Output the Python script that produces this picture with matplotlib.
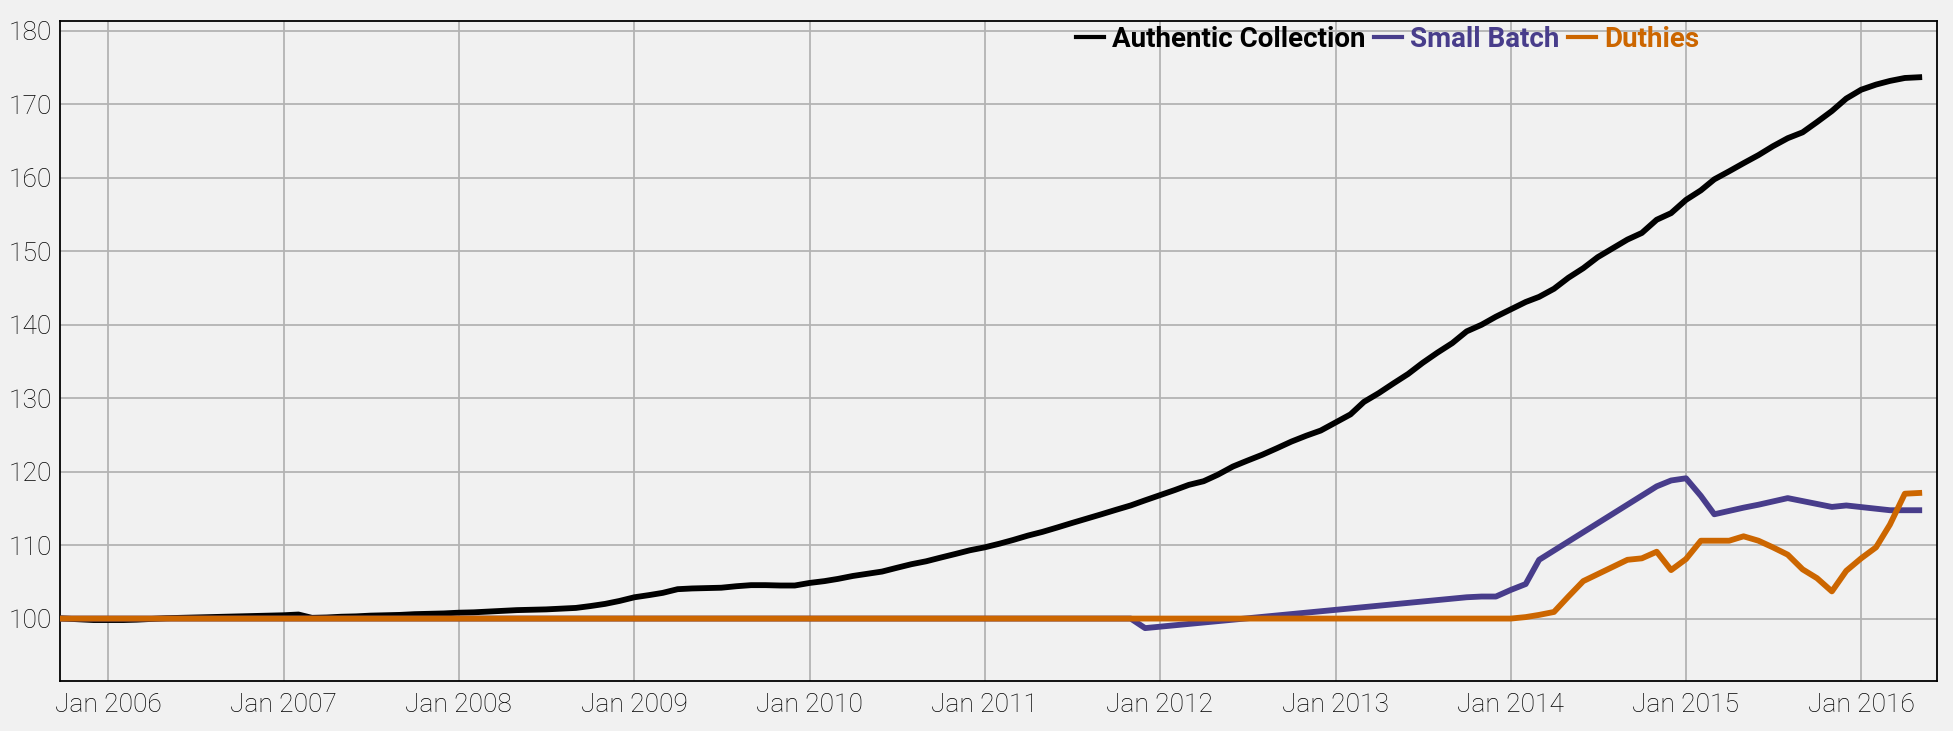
import numpy as np
import matplotlib
matplotlib.use("Agg")
import matplotlib.pyplot as plt
import matplotlib.dates as mdates
from matplotlib.lines import Line2D

# ---------------- data ----------------
black_start = "2005-09-01"
black_end = "2016-05-01"
authentic = [
    100.1, 100.0, 99.9, 99.8,                                                        # 2005 Sep-Dec
    99.8, 99.8, 99.85, 99.95, 100.05, 100.1, 100.15, 100.2, 100.25, 100.3, 100.35, 100.4,  # 2006
    100.45, 100.55, 100.1, 100.15, 100.25, 100.3, 100.4, 100.45, 100.5, 100.6, 100.65, 100.7,  # 2007
    100.8, 100.85, 100.95, 101.05, 101.15, 101.2, 101.25, 101.35, 101.45, 101.7, 102.0, 102.4,  # 2008
    102.9, 103.2, 103.5, 104.0, 104.1, 104.15, 104.2, 104.4, 104.55, 104.55, 104.5, 104.5,    # 2009
    104.85, 105.1, 105.4, 105.8, 106.1, 106.4, 106.9, 107.4, 107.8, 108.3, 108.8, 109.3,      # 2010
    109.7, 110.2, 110.7, 111.3, 111.8, 112.4, 113.0, 113.6, 114.2, 114.8, 115.4, 116.1,       # 2011
    116.8, 117.5, 118.2, 118.7, 119.6, 120.7, 121.5, 122.3, 123.2, 124.1, 124.9, 125.6,       # 2012
    126.7, 127.8, 129.5, 130.7, 132.0, 133.3, 134.8, 136.2, 137.5, 139.1, 140.0, 141.1,       # 2013
    142.1, 143.1, 143.8, 144.9, 146.4, 147.7, 149.2, 150.4, 151.6, 152.5, 154.3, 155.2,       # 2014
    157.0, 158.3, 159.8, 160.9, 162.0, 163.1, 164.3, 165.4, 166.2, 167.6, 169.1, 170.8,       # 2015
    172.0, 172.7, 173.2, 173.6, 173.7,                                                    # 2016 Jan-May
]

small_batch_dates = [
    "2005-09-01", "2011-11-01", "2011-12-01", "2013-10-01", "2013-11-01", "2013-12-01",
    "2014-01-01", "2014-02-01", "2014-03-01", "2014-11-01", "2014-12-01", "2015-01-01",
    "2015-02-01", "2015-03-01", "2015-05-01", "2015-06-01", "2015-08-01", "2015-11-01",
    "2015-12-01", "2016-03-01", "2016-05-01",
]
small_batch = [
    100.0, 100.0, 98.7, 102.9, 103.0, 103.0,
    103.9, 104.7, 108.0, 118.0, 118.8, 119.1,
    116.7, 114.2, 115.1, 115.5, 116.4, 115.2,
    115.4, 114.75, 114.75,
]

duthies_dates = [
    "2005-09-01", "2014-01-01", "2014-02-01", "2014-03-01", "2014-04-01", "2014-05-01",
    "2014-06-01", "2014-09-01", "2014-10-01", "2014-11-01", "2014-12-01", "2015-01-01",
    "2015-02-01", "2015-04-01", "2015-05-01", "2015-06-01", "2015-07-01", "2015-08-01",
    "2015-09-01", "2015-10-01", "2015-11-01", "2015-12-01", "2016-01-01", "2016-02-01",
    "2016-03-01", "2016-04-01", "2016-05-01",
]
duthies = [
    100.0, 100.0, 100.2, 100.5, 100.9, 103.0,
    105.1, 108.0, 108.2, 109.1, 106.6, 108.1,
    110.6, 110.6, 111.2, 110.6, 109.7, 108.7,
    106.7, 105.5, 103.7, 106.5, 108.2, 109.7,
    112.8, 117.0, 117.1,
]

series_names = ["Authentic Collection", "Small Batch", "Duthies"]
series_colors = ["#000000", "#483d8b", "#cc6600"]
y_ticks = [100, 110, 120, 130, 140, 150, 160, 170, 180]

# ---------------- plot ----------------
bg = "#f1f1f1"
fig = plt.figure(figsize=(19.53, 7.31), dpi=100, facecolor=bg)
ax = fig.add_axes([0.0307, 0.0684, 0.9611, 0.9033], facecolor=bg)

black_dates = np.arange(np.datetime64(black_start, "M"), np.datetime64(black_end, "M") + 1).astype("datetime64[D]")
sb_dates = np.array(small_batch_dates, dtype="datetime64[D]")
du_dates = np.array(duthies_dates, dtype="datetime64[D]")

lw = 4.2
ax.plot(black_dates, authentic, color=series_colors[0], lw=lw, solid_joinstyle="round", zorder=3)
ax.plot(sb_dates, small_batch, color=series_colors[1], lw=lw, solid_joinstyle="round", zorder=4)
ax.plot(du_dates, duthies, color=series_colors[2], lw=lw, solid_joinstyle="round", zorder=5)

ax.set_xlim(np.datetime64("2005-09-22"), np.datetime64("2016-06-07"))
ax.set_ylim(91.5, 181.4)
ax.set_yticks(y_ticks)
ax.xaxis.set_major_locator(mdates.YearLocator())
ax.xaxis.set_major_formatter(mdates.DateFormatter("%b %Y"))

ax.grid(True, color="#b3b3b3", lw=1.3)
ax.set_axisbelow(True)
for s in ax.spines.values():
    s.set_color("#000000")
    s.set_linewidth(1.3)
ax.tick_params(length=0, labelsize=19, labelcolor="#000000")
ax.tick_params(axis="y", pad=6)
ax.tick_params(axis="x", pad=9)
for lab in ax.get_xticklabels() + ax.get_yticklabels():
    lab.set_fontfamily("Roboto")
    lab.set_fontweight("light")

handles = [Line2D([], [], color=c, lw=3) for c in series_colors]
leg = ax.legend(handles, series_names, loc="center left", bbox_to_anchor=(0.5413, 0.9715),
                ncol=3, frameon=False, borderpad=0, borderaxespad=0,
                handlelength=1.0, handletextpad=0.3, columnspacing=0.3,
                prop={"family": "Roboto", "weight": "bold", "size": 20})
for t, c in zip(leg.get_texts(), series_colors):
    t.set_color(c)

fig.savefig("out.png", dpi=100, facecolor=bg)
